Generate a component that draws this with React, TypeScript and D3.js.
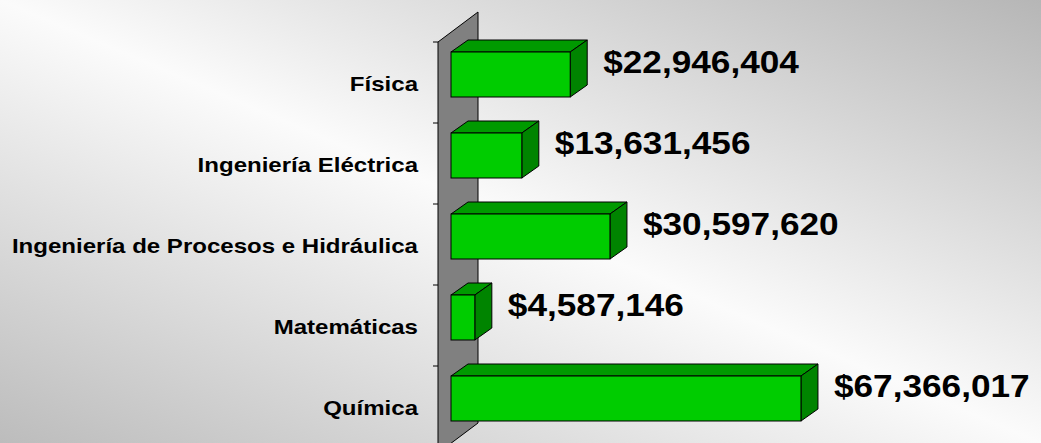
import React, { useRef, useEffect } from 'react';
import * as d3 from 'd3';

const categories = [
  'Física',
  'Ingeniería Eléctrica',
  'Ingeniería de Procesos e Hidráulica',
  'Matemáticas',
  'Química',
];
const values = [22946404, 13631456, 30597620, 4587146, 67366017];

const W = 1041;
const H = 443;

const Chart = () => {
  const svgRef = useRef<SVGSVGElement>(null);

  useEffect(() => {
    document.body.style.margin = '0';
    const svg = d3.select(svgRef.current);
    svg.selectAll('*').remove();

    const defs = svg.append('defs');
    const grad = defs.append('linearGradient')
      .attr('id', 'bg')
      .attr('x1', 0).attr('y1', 1)
      .attr('x2', 1).attr('y2', 0);
    grad.append('stop').attr('offset', 0).attr('stop-color', '#bcbcbc');
    grad.append('stop').attr('offset', 0.5).attr('stop-color', '#fbfbfb');
    grad.append('stop').attr('offset', 1).attr('stop-color', '#b6b6b6');

    svg.append('rect').attr('width', W).attr('height', H).attr('fill', 'url(#bg)');

    // axis geometry
    const axisX = 438;
    const wallDx = 40, wallDy = -30;
    const barDx = 17, barDy = -12;
    const barOffX = 13, barOffY = 10;

    const y = d3.scaleBand<string>()
      .domain(categories)
      .range([42, 447])
      .paddingInner(0)
      .paddingOuter(0);

    const x = d3.scaleLinear()
      .domain([0, 70000000])
      .range([axisX + barOffX, axisX + barOffX + 70 * 5.195]);

    const y0 = y.range()[0];
    const y1 = y.range()[1] + 6;

    // side wall
    svg.append('path')
      .attr('d', `M${axisX},${y0} L${axisX + wallDx},${y0 + wallDy} L${axisX + wallDx},${y1 + wallDy} L${axisX},${y1} Z`)
      .attr('fill', '#808080')
      .attr('stroke', '#000')
      .attr('stroke-width', 1);

    // ticks
    const tickYs = categories.map(c => y(c)!);
    svg.append('g').selectAll('line')
      .data(tickYs)
      .enter()
      .append('line')
      .attr('x1', axisX - 5).attr('x2', axisX)
      .attr('y1', d => d).attr('y2', d => d)
      .attr('stroke', '#000');

    const barH = 45;
    const bars = svg.append('g').selectAll('g')
      .data(values.map((v, i) => ({ v, c: categories[i] })))
      .enter()
      .append('g');

    const x0 = x(0);
    bars.append('path')
      .attr('d', d => {
        const top = y(d.c)! + barOffY;
        const xr = x(d.v);
        return `M${x0},${top} L${x0 + barDx},${top + barDy} L${xr + barDx},${top + barDy} L${xr},${top} Z`;
      })
      .attr('fill', '#009a00')
      .attr('stroke', '#000')
      .attr('stroke-linejoin', 'round');

    bars.append('path')
      .attr('d', d => {
        const top = y(d.c)! + barOffY;
        const xr = x(d.v);
        return `M${xr},${top} L${xr + barDx},${top + barDy} L${xr + barDx},${top + barDy + barH} L${xr},${top + barH} Z`;
      })
      .attr('fill', '#008400')
      .attr('stroke', '#000')
      .attr('stroke-linejoin', 'round');

    bars.append('rect')
      .attr('x', x0)
      .attr('y', d => y(d.c)! + barOffY)
      .attr('width', d => x(d.v) - x0)
      .attr('height', barH)
      .attr('fill', '#00cc00')
      .attr('stroke', '#000');

    const fmt = d3.format('$,');

    bars.append('text')
      .attr('transform', d => `translate(${x(d.v) + barDx + 16},${y(d.c)! + barOffY + 21}) scale(1.1,1)`)
      .attr('font-family', '"Liberation Sans", Arial, sans-serif')
      .attr('font-weight', 'bold')
      .attr('font-size', 32)
      .attr('fill', '#000')
      .text(d => fmt(d.v));

    svg.append('g').selectAll('text')
      .data(categories)
      .enter()
      .append('text')
      .attr('transform', d => `translate(418,${y(d)! + y.bandwidth() / 2 + 8}) scale(1.145,1)`)
      .attr('text-anchor', 'end')
      .attr('font-family', '"Liberation Sans", Arial, sans-serif')
      .attr('font-weight', 'bold')
      .attr('font-size', 21)
      .attr('fill', '#000')
      .text(d => d);
  }, []);

  return <svg ref={svgRef} width={W} height={H} style={{ display: 'block' }}></svg>;
};

export default function App() {
  return <Chart />;
}
